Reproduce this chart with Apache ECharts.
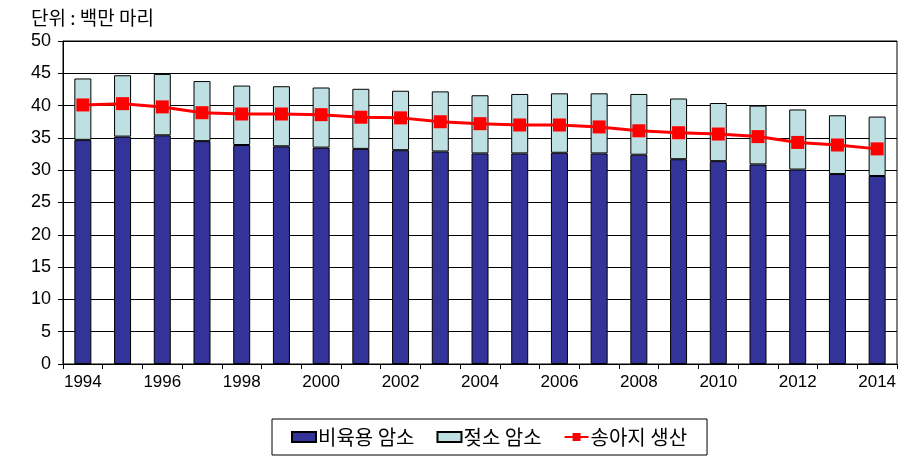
<!DOCTYPE html>
<html>
<head>
<meta charset="utf-8">
<script src="https://cdn.jsdelivr.net/npm/echarts@6/dist/echarts.min.js"></script>
<style>
html,body{margin:0;padding:0;background:#fff;}
#c{width:912px;height:472px;}
</style>
</head>
<body>
<div id="c"></div>
<script>
const years = ['1994','1995','1996','1997','1998','1999','2000','2001','2002','2003','2004','2005','2006','2007','2008','2009','2010','2011','2012','2013','2014'];
const beefCows = [34.7,35.2,35.4,34.5,33.9,33.7,33.5,33.3,33.1,32.9,32.6,32.6,32.7,32.6,32.4,31.7,31.4,30.9,30.1,29.4,29.1];
const totalCows = [44.2,44.7,44.9,43.8,43.1,43.0,42.8,42.6,42.3,42.2,41.6,41.8,41.9,41.9,41.8,41.1,40.4,40.0,39.4,38.5,38.3];
const calfProduction = [40.1,40.3,39.8,38.9,38.7,38.7,38.6,38.2,38.1,37.5,37.2,37.0,37.0,36.7,36.1,35.8,35.6,35.2,34.3,33.9,33.3];
const dairyCows = totalCows.map((t,i)=>+(t-beefCows[i]).toFixed(2));
const yTicks = {min:0, max:50, step:5};
const names = ['비육용 암소','젖소 암소','송아지 생산'];

const chart = echarts.init(document.getElementById('c'));
const numFont = '"Liberation Sans", Arial, sans-serif';
const krFont = '"Noto Sans CJK KR", sans-serif';
chart.setOption({
  animation:false,
  title:{text:'단위 : 백만 마리', left:26, top:3, textStyle:{fontFamily:krFont, fontSize:19, fontWeight:'normal', color:'#000'}},
  grid:{left:63, right:15, top:41, bottom:108, show:true, borderColor:'#000', borderWidth:1},
  legend:{
    left:272, top:419, width:435,
    padding:[8,20,8,19],
    borderColor:'#000', borderWidth:1,
    itemGap:22, itemWidth:24, itemHeight:10,
    textStyle:{fontFamily:krFont, fontSize:20, color:'#000', padding:[0,0,0,-3]},
    data:[{name:names[0], icon:'rect'},{name:names[1], icon:'rect'},{name:names[2]}]
  },
  xAxis:{
    type:'category', data:years, boundaryGap:true,
    axisLine:{lineStyle:{color:'#000', width:1}},
    axisTick:{show:true, interval:0, length:5, lineStyle:{color:'#000'}},
    axisLabel:{interval:1, color:'#000', fontFamily:numFont, fontSize:17, margin:10}
  },
  yAxis:{
    type:'value', min:yTicks.min, max:yTicks.max, interval:yTicks.step,
    axisLine:{show:true, lineStyle:{color:'#000'}},
    axisTick:{show:true, length:5, lineStyle:{color:'#000'}},
    splitLine:{show:true, lineStyle:{color:'#000', width:1}},
    axisLabel:{color:'#000', fontFamily:numFont, fontSize:18, margin:12}
  },
  series:[
    {name:names[0], type:'bar', stack:'cows', data:beefCows, barWidth:17,
     itemStyle:{color:'#333399', borderColor:'#000', borderWidth:1}},
    {name:names[1], type:'bar', stack:'cows', data:dairyCows, barWidth:17,
     itemStyle:{color:'#BFE0E3', borderColor:'#000', borderWidth:1}},
    {name:names[2], type:'line', data:calfProduction, z:5,
     symbol:'rect', symbolSize:13,
     itemStyle:{color:'#FF0000'}, lineStyle:{color:'#FF0000', width:3}}
  ]
});
</script>
</body>
</html>
